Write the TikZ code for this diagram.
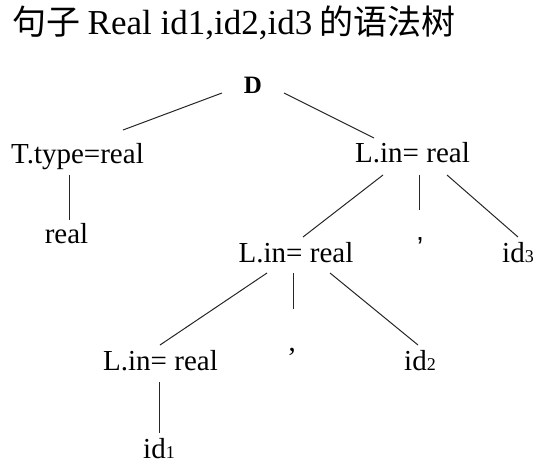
\documentclass[tikz,border=0pt]{standalone}
\usepackage{fontspec}
\setmainfont{Liberation Serif}
\setsansfont{Liberation Sans}
\newfontfamily\cjk{Noto Sans CJK SC}
\newcommand{\sub}[1]{{\fontsize{18}{18}\selectfont #1}}
\begin{document}
\begin{tikzpicture}[x=1pt,y=-1pt,
  lbl/.style={inner sep=0pt,anchor=base,font=\fontsize{29}{30}\selectfont},
  edge/.style={line width=1pt,draw=black!85}]
\useasboundingbox (0,0) rectangle (546,472);
\node[inner sep=0pt,anchor=base west] (title) at (12,34)
  {\fontsize{34}{35}\selectfont{\cjk 句子}\hspace{0.22em}{\fontsize{35}{35}\selectfont Real id1,id2,id3}\hspace{0.22em}{\cjk 的语法树}};
\node[lbl,font=\fontsize{25}{26}\selectfont\bfseries] (D) at (253,93) {D};
\node[lbl] (T) at (77.5,163) {T.type=real};
\node[lbl] (R) at (66.5,243) {real};
\node[lbl] (L1) at (412.5,162) {L.in= real};
\node[lbl,anchor=center,font=\fontsize{29}{30}\selectfont\sffamily] (C1) at (420,248) {’};
\node[lbl] (I3) at (518,262) {id\sub{3}};
\node[lbl] (L2) at (296,262) {L.in= real};
\node[lbl,anchor=center] (C2) at (292,358) {’};
\node[lbl] (I2) at (420,370) {id\sub{2}};
\node[lbl] (L3) at (160.5,370) {L.in= real};
\node[lbl] (I1) at (159,458) {id\sub{1}};
\draw[edge] ([shift={(-31,0)}]D.base) -- ([shift={(45.5,-33)}]T.base);
\draw[edge] ([shift={(31,0)}]D.base) -- ([shift={(-38.5,-24)}]L1.base);
\draw[edge] ([shift={(-8.5,12)}]T.base) -- ([shift={(2.5,-23)}]R.base);
\draw[edge] ([shift={(-29.5,13)}]L1.base) -- ([shift={(7,-25)}]L2.base);
\draw[edge] ([shift={(6.5,13)}]L1.base) -- ([shift={(-1,-38)}]C1.center);
\draw[edge] ([shift={(34.5,13)}]L1.base) -- ([shift={(0,-25)}]I3.base);
\draw[edge] ([shift={(-29,11)}]L2.base) -- ([shift={(-0.5,-25)}]L3.base);
\draw[edge] ([shift={(-3,11)}]L2.base) -- ([shift={(1,-49)}]C2.center);
\draw[edge] ([shift={(34,11)}]L2.base) -- ([shift={(-2,-25)}]I2.base);
\draw[edge] ([shift={(-1.5,12)}]L3.base) -- ([shift={(0,-25)}]I1.base);
\end{tikzpicture}
\end{document}
